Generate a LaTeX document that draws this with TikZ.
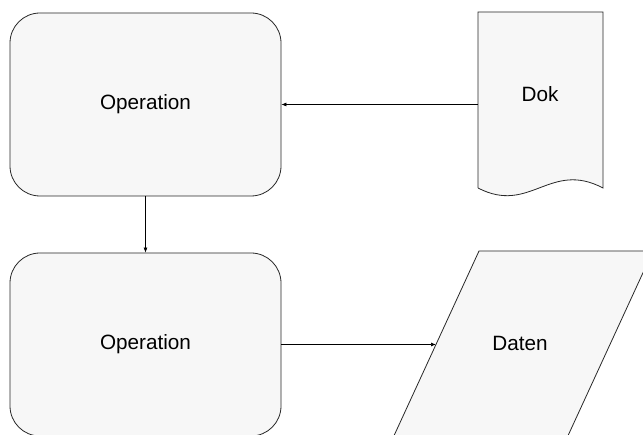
\documentclass[tikz,border=0pt]{standalone}
\usepackage{fontspec}
\setmainfont{Liberation Sans}
\usetikzlibrary{arrows.meta}
\definecolor{boxfill}{RGB}{247,247,247}
\definecolor{boxline}{RGB}{40,40,40}
\begin{document}
\begin{tikzpicture}[x=1pt, y=-1pt,
    shapeline/.style={draw=boxline, fill=boxfill, line width=0.8pt},
    opbox/.style={shapeline, rounded corners=30pt, minimum width=271pt, minimum height=183pt, inner sep=0pt},
    lbl/.style={font=\fontsize{20.7pt}{24pt}\selectfont},
    flow/.style={draw=black, line width=0.7pt, -{Latex[length=5pt,width=4pt]}}]
        \clip (0,0) rectangle (643,435);
        \fill[white] (0,0) rectangle (643,435);
        \node[opbox, lbl] (op1) at (145.5,104.5) {Operation};
        \node[opbox, lbl] (op2) at (145.5,344.5) {Operation};
        \draw[shapeline] (478,188) -- (478,12) -- (603,12) -- (603,188) .. controls (550,160) and (530,215) .. (478,188);
        \node[lbl] (dok) at (540,94) {Dok};
        \draw[shapeline] (393.4,437) -- (479,251) -- (653,251) -- (567.4,437) -- cycle;
        \node[lbl] (daten) at (520,343) {Daten};
        \coordinate (dokin) at (478,104.5);
        \coordinate (datin) at (436,344.5);
        \draw[flow] (dokin) -- (op1);
        \draw[flow] (op1) -- (op2);
        \draw[flow] (op2) -- (datin);
    \end{tikzpicture}
\end{document}
